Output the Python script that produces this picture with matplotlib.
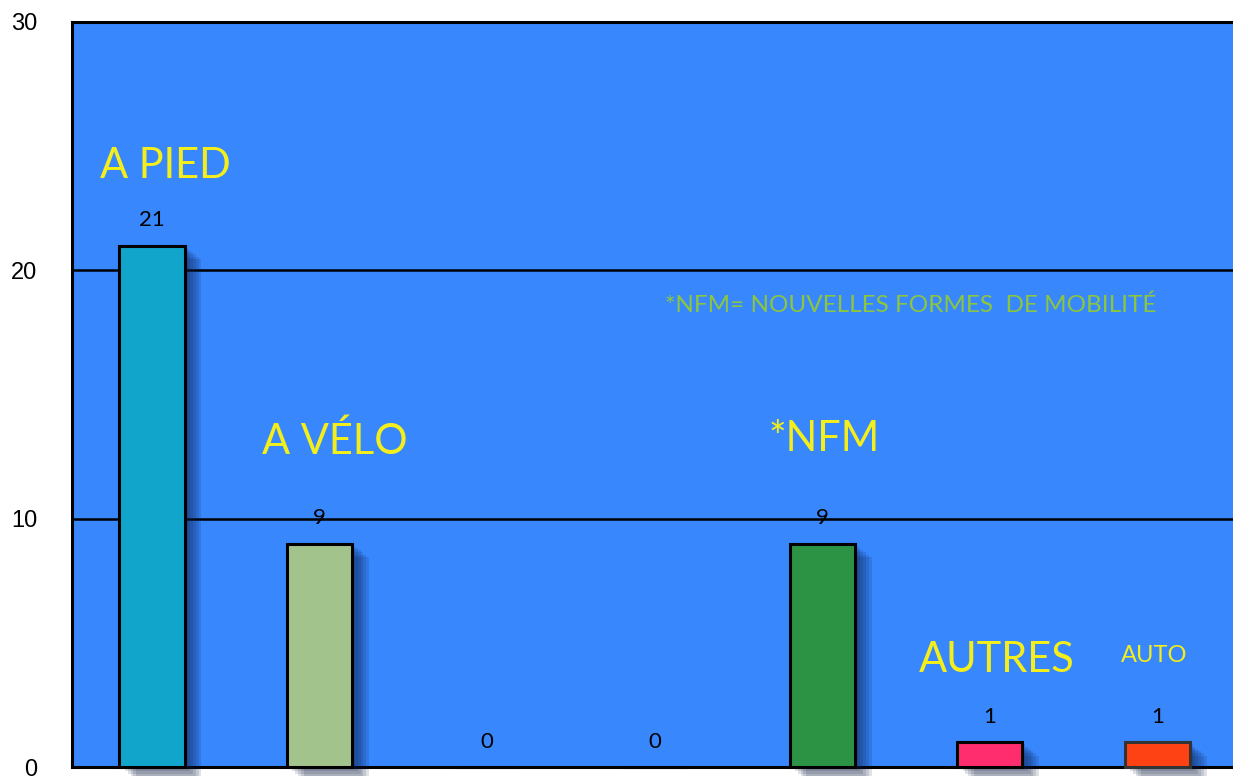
import numpy as np
import matplotlib
matplotlib.use("Agg")
from matplotlib import pyplot as plt
from matplotlib import patheffects as pe

# data
categories = ["A PIED", "A VÉLO", "", "", "*NFM", "AUTRES", "AUTO"]
values = [21, 9, 0, 0, 9, 1, 1]
bar_colors = ["#12a5cb", "#a2c38b", "#3887fd", "#3887fd", "#2c9345", "#ff2d6e", "#ff4213"]
edge_colors = ["black", "black", "black", "black", "black", "black", "#333333"]
yticks = [0, 10, 20, 30]
note = "*NFM= NOUVELLES FORMES  DE MOBILITÉ"

plt.rcParams['font.family'] = ['Lato', 'DejaVu Sans']

fig = plt.figure(figsize=(12.33, 7.76), dpi=100)
W, H = 1233, 776
# axes runs past the right edge of the picture, like the original
ax = fig.add_axes([72 / W, (776 - 767) / H, (1241 - 72) / W, (767 - 22) / H])
ax.set_facecolor("#3887fd")

x = np.arange(len(values))
shadow = [pe.SimplePatchShadow(offset=(o, -o * 0.8), shadow_rgbFace="#0a1a40", alpha=0.13)
          for o in (12, 10, 8, 6, 4, 2)]
bars = ax.bar(x, values, width=0.39, color=bar_colors, edgecolor=edge_colors,
              linewidth=2.2, zorder=3, clip_on=False)
for b, v in zip(bars, values):
    if v > 0:
        b.set_path_effects(shadow + [pe.Normal()])

ax.set_xlim(-0.478, 6.5)
ax.set_ylim(0, 30)
ax.set_yticks(yticks)
ax.set_yticklabels([str(t) for t in yticks], fontsize=17, family=['Liberation Sans'])
ax.tick_params(axis='y', length=0, pad=25)
ax.set_xticks([])
for t in (10, 20):
    ax.axhline(t, color="black", lw=1.8, zorder=2)
for s in ax.spines.values():
    s.set_linewidth(2.2)

# value labels above bars
for xi, v in zip(x, values):
    ax.annotate(str(v), (xi, v), xytext=(0, 18), textcoords="offset points",
                ha="center", va="center", fontsize=16, color="black", zorder=5)

# category names, placed freely as in the original
label_pos = {0: (0.08, 24.2, 30), 1: (1.09, 13.1, 30), 4: (4.01, 13.2, 30),
             5: (5.04, 4.3, 30), 6: (5.98, 4.5, 17)}
for i, (lx, ly, fs) in label_pos.items():
    ax.text(lx, ly, categories[i], ha="center", va="center", fontsize=fs,
            color="#f4ee1a", zorder=5)

ax.text(4.53, 18.6, note, ha="center", va="center", fontsize=17.5,
        color="#8cc63f", zorder=5)

fig.savefig("out.png", dpi=100)
